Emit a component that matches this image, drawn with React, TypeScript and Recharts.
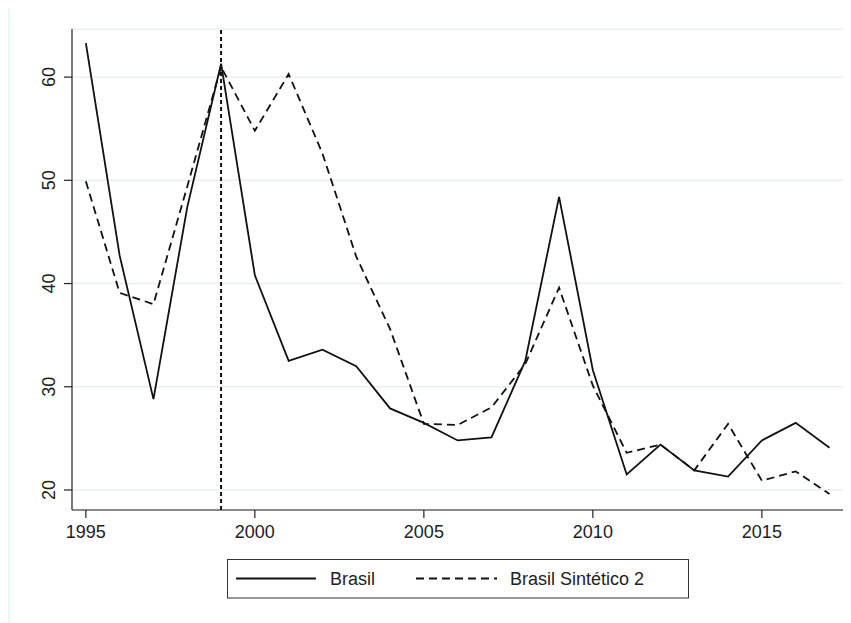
import { LineChart, Line, XAxis, YAxis, CartesianGrid, ReferenceLine } from "recharts";

const years = [
  1995, 1996, 1997, 1998, 1999, 2000, 2001, 2002, 2003, 2004, 2005, 2006,
  2007, 2008, 2009, 2010, 2011, 2012, 2013, 2014, 2015, 2016, 2017,
];

const brasil = [
  63.3, 42.7, 28.8, 47.4, 61.3, 40.8, 32.5, 33.6, 32.0, 27.9, 26.5, 24.8,
  25.1, 32.5, 48.4, 31.6, 21.5, 24.4, 21.9, 21.3, 24.8, 26.5, 24.1,
];

const sintetico = [
  49.9, 39.1, 38.0, 49.4, 61.0, 54.8, 60.3, 52.6, 42.6, 35.6, 26.4, 26.3,
  28.0, 32.2, 39.6, 30.1, 23.6, 24.4, 21.9, 26.4, 20.9, 21.8, 19.6,
];

const xTicks = [1995, 2000, 2005, 2010, 2015];
const yTicks = [20, 30, 40, 50, 60];
const treatYear = 1999;

const FONT = '"Liberation Sans", Arial, Helvetica, sans-serif';

const data = years.map((year, i) => ({
  year,
  brasil: brasil[i],
  sintetico: sintetico[i],
}));

function YTick(props: any) {
  const { y, payload } = props;
  return (
    <text
      transform={`translate(40.5,${y}) rotate(-90)`}
      textAnchor="middle"
      dy="0.36em"
      fontSize={18}
      fontFamily={FONT}
      fill="#222"
    >
      {payload.value}
    </text>
  );
}

function XTick(props: any) {
  const { x, payload } = props;
  return (
    <text
      x={x}
      y={524}
      textAnchor="middle"
      dy="0.36em"
      fontSize={18}
      fontFamily={FONT}
      fill="#222"
    >
      {payload.value}
    </text>
  );
}

function LegendBox() {
  return (
    <svg width={462} height={40} style={{ display: "block" }}>
      <rect x={0.5} y={0.5} width={461} height={38.5} fill="#fff" stroke="#333" strokeWidth={1} />
      <line x1={9} y1={19.5} x2={89} y2={19.5} stroke="#111" strokeWidth={1.8} />
      <text x={103} y={20} dy="0.36em" fontSize={18} fontFamily={FONT} fill="#222">
        Brasil
      </text>
      <line x1={189} y1={19.5} x2={270} y2={19.5} stroke="#111" strokeWidth={1.8} strokeDasharray="8 5" />
      <text x={283} y={20} dy="0.36em" fontSize={18} fontFamily={FONT} fill="#222">
        Brasil Sintético 2
      </text>
    </svg>
  );
}

export default function App() {
  return (
    <div style={{ position: "relative", width: 843, height: 615, background: "#fff" }}>
      <div
        style={{
          position: "absolute",
          left: 0,
          top: 0,
          width: 2,
          height: 615,
          background: "#eef3f5",
        }}
      />
      <LineChart
        width={843}
        height={615}
        data={data}
        margin={{ top: 21, right: 8, bottom: 73, left: 0 }}
      >
        <CartesianGrid vertical={false} stroke="#e8eff2" strokeWidth={1.5} />
        <XAxis
          dataKey="year"
          type="number"
          domain={[1994.59, 2017.4]}
          ticks={xTicks}
          allowDataOverflow
          height={40}
          tickSize={8}
          tick={<XTick />}
          axisLine={{ stroke: "#222", strokeWidth: 1.2 }}
          tickLine={{ stroke: "#222", strokeWidth: 1.2 }}
        />
        <YAxis
          type="number"
          domain={[18.06, 64.66]}
          ticks={yTicks}
          allowDataOverflow
          width={64}
          tickSize={8}
          tick={<YTick />}
          axisLine={{ stroke: "#222", strokeWidth: 1.2 }}
          tickLine={{ stroke: "#222", strokeWidth: 1.2 }}
        />
        <ReferenceLine x={treatYear} stroke="#111" strokeWidth={2} strokeDasharray="4 3" />
        <Line
          type="linear"
          dataKey="brasil"
          name="Brasil"
          stroke="#111"
          strokeWidth={1.8}
          dot={false}
          isAnimationActive={false}
        />
        <Line
          type="linear"
          dataKey="sintetico"
          name="Brasil Sintético 2"
          stroke="#111"
          strokeWidth={1.8}
          strokeDasharray="8 5"
          dot={false}
          isAnimationActive={false}
        />
      </LineChart>
      <div style={{ position: "absolute", left: 219, top: 551 }}>
        <LegendBox />
      </div>
    </div>
  );
}
